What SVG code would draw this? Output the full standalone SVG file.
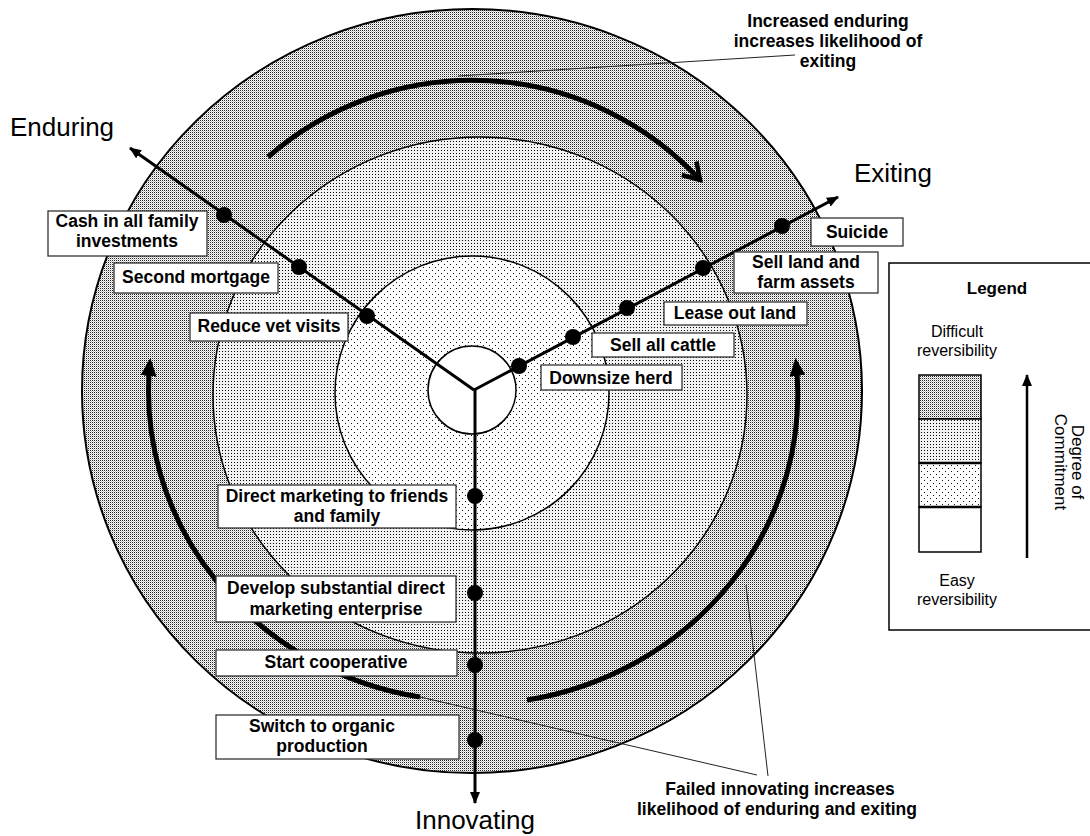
<svg xmlns="http://www.w3.org/2000/svg" width="1090" height="836" viewBox="0 0 1090 836">
<style>
.lbl{font-family:"Liberation Sans",Arial,sans-serif;font-weight:bold;font-size:17.5px;fill:#000;text-anchor:middle}
.big{font-family:"Liberation Sans",Arial,sans-serif;font-size:26px;fill:#000}
.leg{font-family:"Liberation Sans",Arial,sans-serif;font-size:16px;fill:#000;text-anchor:middle}
.box{fill:#fff;stroke:#333;stroke-width:1.3}
.axis{stroke:#000;stroke-width:3;fill:none}
.bold{stroke:#000;stroke-width:5;fill:none}
.lead{stroke:#222;stroke-width:1;fill:none}
.dot{fill:#000}
</style>
<defs>
<pattern id="pOuter" width="2" height="2" patternUnits="userSpaceOnUse">
<rect width="2" height="2" fill="#fff"/><rect width="1" height="1" fill="#222"/><rect x="1" y="1" width="1" height="1" fill="#c4c4c4"/>
</pattern>
<pattern id="pMid" width="3" height="3" patternUnits="userSpaceOnUse">
<rect width="3" height="3" fill="#f2f2f2"/><rect width="1" height="1" fill="#000"/>
</pattern>
<pattern id="pInner" width="6" height="6" patternUnits="userSpaceOnUse">
<rect width="6" height="6" fill="#fff"/><rect width="1" height="1" fill="#111"/><rect x="3" y="3" width="1" height="1" fill="#111"/>
</pattern>
<marker id="ahAxis" viewBox="0 0 12 10" refX="11" refY="5" markerWidth="12" markerHeight="10" markerUnits="userSpaceOnUse" orient="auto">
<path d="M0,0 L12,5 L0,10 Z" fill="#000"/>
</marker>
<marker id="ahV" viewBox="0 0 24 24" refX="20" refY="12" markerWidth="24" markerHeight="24" markerUnits="userSpaceOnUse" orient="auto">
<path d="M4,2 L20,12 L4,22" fill="none" stroke="#000" stroke-width="4.5"/>
</marker>
<marker id="ahF" viewBox="0 0 18 16" refX="14" refY="8" markerWidth="18" markerHeight="16" markerUnits="userSpaceOnUse" orient="auto">
<path d="M0,0 L18,8 L0,16 Z" fill="#000"/>
</marker>
</defs>

<g id="rings">
<ellipse cx="472" cy="391" rx="390" ry="382" fill="url(#pOuter)" stroke="#000" stroke-width="2"/>
<ellipse cx="480" cy="395" rx="267" ry="258" fill="url(#pMid)" stroke="#000" stroke-width="1.5"/>
<circle cx="472" cy="393" r="137" fill="url(#pInner)" stroke="#000" stroke-width="1.5"/>
<circle cx="472" cy="390" r="44" fill="#fff" stroke="#000" stroke-width="1.5"/>
</g>

<g id="connectors">
<path class="bold" d="M268,157 A310,310 0 0 1 700,180" marker-end="url(#ahV)"/>
<path class="bold" d="M420,697 A325,310 0 0 1 150,362" marker-end="url(#ahF)"/>
<path class="bold" d="M527,700 A325,310 0 0 0 796,362" marker-end="url(#ahF)"/>
<path class="lead" d="M795,55 L458,76"/>
<path class="lead" d="M757,775 L420,697"/>
<path class="lead" d="M768,776 L746,585"/>
<path class="axis" d="M474,390 L130,148" marker-end="url(#ahAxis)"/>
<path class="axis" d="M474,390 L838,197" marker-end="url(#ahAxis)"/>
<path class="axis" d="M475,390 L475,803" marker-end="url(#ahAxis)"/>
</g>

<g id="dots">
<circle class="dot" cx="224" cy="215" r="8"/>
<circle class="dot" cx="299" cy="267" r="8"/>
<circle class="dot" cx="367" cy="316" r="8"/>
<circle class="dot" cx="519" cy="366" r="8"/>
<circle class="dot" cx="573" cy="337" r="8"/>
<circle class="dot" cx="627" cy="308" r="8"/>
<circle class="dot" cx="703" cy="268" r="8"/>
<circle class="dot" cx="782" cy="226" r="8"/>
<circle class="dot" cx="475" cy="496" r="8"/>
<circle class="dot" cx="475" cy="593" r="8"/>
<circle class="dot" cx="475" cy="665" r="8"/>
<circle class="dot" cx="475" cy="740" r="8"/>
</g>

<g id="n-cash"><rect class="box" x="48" y="211" width="159" height="45"/><text class="lbl" x="127" y="227">Cash in all family</text><text class="lbl" x="127" y="247">investments</text></g>
<g id="n-mortgage"><rect class="box" x="114" y="263" width="164" height="30"/><text class="lbl" x="196" y="283">Second mortgage</text></g>
<g id="n-vet"><rect class="box" x="190" y="313" width="158" height="28"/><text class="lbl" x="269" y="332">Reduce vet visits</text></g>
<g id="n-suicide"><rect class="box" x="811" y="218" width="92" height="28"/><text class="lbl" x="857" y="238">Suicide</text></g>
<g id="n-sellland"><rect class="box" x="734" y="252" width="144" height="41"/><text class="lbl" x="806" y="268">Sell land and</text><text class="lbl" x="806" y="288">farm assets</text></g>
<g id="n-lease"><rect class="box" x="664" y="302" width="143" height="23"/><text class="lbl" x="735" y="319">Lease out land</text></g>
<g id="n-cattle"><rect class="box" x="592" y="333" width="142" height="24"/><text class="lbl" x="663" y="351">Sell all cattle</text></g>
<g id="n-downsize"><rect class="box" x="541" y="365" width="141" height="25"/><text class="lbl" x="611" y="384">Downsize herd</text></g>
<g id="n-direct"><rect class="box" x="218" y="485" width="238" height="43"/><text class="lbl" x="337" y="502">Direct marketing to friends</text><text class="lbl" x="337" y="522">and family</text></g>
<g id="n-develop"><rect class="box" x="216" y="576" width="240" height="46"/><text class="lbl" x="336" y="594">Develop substantial direct</text><text class="lbl" x="336" y="615">marketing enterprise</text></g>
<g id="n-coop"><rect class="box" x="216" y="650" width="241" height="26"/><text class="lbl" x="336" y="668">Start cooperative</text></g>
<g id="n-organic"><rect class="box" x="216" y="715" width="243" height="44"/><text class="lbl" x="322" y="732">Switch to organic</text><text class="lbl" x="322" y="752">production</text></g>

<g id="axis-labels">
<text class="big" x="10" y="136">Enduring</text>
<text class="big" x="854" y="182">Exiting</text>
<text class="big" x="475" y="829" text-anchor="middle">Innovating</text>
</g>

<g id="annotations">
<text class="lbl" x="828" y="27">Increased enduring</text>
<text class="lbl" x="828" y="47">increases likelihood of</text>
<text class="lbl" x="828" y="67">exiting</text>
<text class="lbl" x="780" y="795">Failed innovating increases</text>
<text class="lbl" x="777" y="815">likelihood of enduring and exiting</text>
</g>

<g id="legend">
<rect x="889" y="263" width="210" height="367" fill="#fff" stroke="#000" stroke-width="1.5"/>
<text class="leg" x="997" y="294" font-weight="bold" style="font-size:17px">Legend</text>
<text class="leg" x="957" y="337">Difficult</text>
<text class="leg" x="957" y="356">reversibility</text>
<rect x="919" y="375" width="62" height="44" fill="url(#pOuter)" stroke="#000" stroke-width="1.5"/>
<rect x="919" y="419" width="62" height="44" fill="url(#pMid)" stroke="#000" stroke-width="1.5"/>
<rect x="919" y="463" width="62" height="44" fill="url(#pInner)" stroke="#000" stroke-width="1.5"/>
<rect x="919" y="507" width="62" height="45" fill="#fff" stroke="#000" stroke-width="1.5"/>
<line x1="919" y1="463" x2="981" y2="463" stroke="#000" stroke-width="2.5"/>
<line x1="919" y1="507" x2="981" y2="507" stroke="#000" stroke-width="2.5"/>
<path class="axis" d="M1027,558 L1027,375" marker-end="url(#ahAxis)" style="stroke-width:2.5"/>
<text class="leg" transform="translate(1072,462) rotate(90)" style="font-size:17px"><tspan x="0" y="0">Degree of</tspan><tspan x="0" y="17">Commitment</tspan></text>
<text class="leg" x="957" y="586">Easy</text>
<text class="leg" x="957" y="605">reversibility</text>
</g>
</svg>
